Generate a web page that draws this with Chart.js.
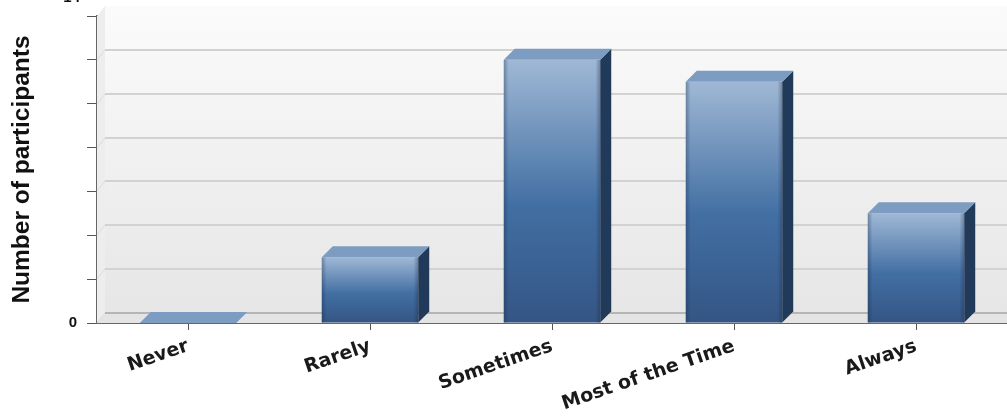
<!DOCTYPE html>
<html>
<head>
<meta charset="utf-8">
<script src="https://cdn.jsdelivr.net/npm/chart.js@4"></script>
<style>
  html, body { margin: 0; padding: 0; background: #fff; }
  #wrap { width: 1007px; height: 419px; }
</style>
</head>
<body>
<div id="wrap"><canvas id="freqChart" width="1007" height="419"></canvas></div>
<script>
// answers per frequency category
const categories = ["Never", "Rarely", "Sometimes", "Most of the Time", "Always"];
const participants = [0, 3, 12, 11, 5];
const yMax = 14;
const yStep = 2;

// depth of the fake 3d box (walls) and of the bars
const WALL_DX = 8, WALL_DY = 10;
const BAR_DX = 11, BAR_DY = 11;

function frontGradient(context) {
    const chart = context.chart;
    const y = chart.scales.y;
    if (!y || !chart.chartArea) return "#426fa3";
    const top = y.getPixelForValue(context.raw);
    const base = y.getPixelForValue(0);
    if (base - top < 1) return "#7f9fc4";
    const g = chart.ctx.createLinearGradient(0, top, 0, base);
    g.addColorStop(0, "#a0b8d5");
    g.addColorStop(0.55, "#426fa3");
    g.addColorStop(1, "#345584");
    return g;
}

// back wall, floor and grid lines drawn behind the bars
const box3d = {
    id: "box3d",
    beforeDatasetsDraw(chart) {
        const { ctx, chartArea: a } = chart;
        const y = chart.scales.y;
        ctx.save();
        // back wall
        const wg = ctx.createLinearGradient(0, a.top - WALL_DY, 0, a.bottom - WALL_DY);
        wg.addColorStop(0, "#fbfbfb");
        wg.addColorStop(1, "#e6e6e6");
        ctx.fillStyle = wg;
        ctx.fillRect(a.left + WALL_DX, a.top - WALL_DY, a.right - a.left - WALL_DX, a.bottom - a.top);
        // left side wall
        ctx.fillStyle = "#ededed";
        ctx.beginPath();
        ctx.moveTo(a.left, a.top);
        ctx.lineTo(a.left + WALL_DX, a.top - WALL_DY);
        ctx.lineTo(a.left + WALL_DX, a.bottom - WALL_DY);
        ctx.lineTo(a.left, a.bottom);
        ctx.closePath();
        ctx.fill();
        // floor
        ctx.fillStyle = "#e4e4e4";
        ctx.beginPath();
        ctx.moveTo(a.left, a.bottom);
        ctx.lineTo(a.left + WALL_DX, a.bottom - WALL_DY);
        ctx.lineTo(a.right, a.bottom - WALL_DY);
        ctx.lineTo(a.right, a.bottom);
        ctx.closePath();
        ctx.fill();
        // grid lines on the back wall plus the short diagonals on the side wall
        for (let v = 0; v < yMax; v += yStep) {
            const py = Math.round(y.getPixelForValue(v)) - WALL_DY;
            ctx.strokeStyle = v === 0 ? "#b5b5b5" : "#d2d2d2";
            ctx.lineWidth = 2;
            ctx.beginPath();
            ctx.moveTo(a.left + WALL_DX, py);
            ctx.lineTo(a.right, py);
            ctx.stroke();
            ctx.strokeStyle = "#dcdcdc";
            ctx.lineWidth = 1;
            ctx.beginPath();
            ctx.moveTo(a.left, py + WALL_DY);
            ctx.lineTo(a.left + WALL_DX, py);
            ctx.stroke();
        }
        ctx.restore();
    },
    afterDatasetsDraw(chart) {
        const { ctx } = chart;
        const meta = chart.getDatasetMeta(0);
        ctx.save();
        meta.data.forEach((bar) => {
            const { x, y, base, width } = bar.getProps(["x", "y", "base", "width"], true);
            const xl = x - width / 2, xr = x + width / 2;
            // soft shading along the front edges
            if (base - y > 1) {
                const eg = ctx.createLinearGradient(xl, 0, xr, 0);
                eg.addColorStop(0, "rgba(20,40,70,0.35)");
                eg.addColorStop(0.05, "rgba(20,40,70,0)");
                eg.addColorStop(0.95, "rgba(20,40,70,0)");
                eg.addColorStop(1, "rgba(20,40,70,0.35)");
                ctx.fillStyle = eg;
                ctx.fillRect(xl, y, width, base - y);
            }
            // right side
            ctx.fillStyle = "#223a59";
            ctx.beginPath();
            ctx.moveTo(xr, y);
            ctx.lineTo(xr + BAR_DX, y - BAR_DY);
            ctx.lineTo(xr + BAR_DX, base - BAR_DY);
            ctx.lineTo(xr, base);
            ctx.closePath();
            ctx.fill();
            // top
            ctx.fillStyle = "#7d9cc2";
            ctx.beginPath();
            ctx.moveTo(xl, y);
            ctx.lineTo(xr, y);
            ctx.lineTo(xr + BAR_DX, y - BAR_DY);
            ctx.lineTo(xl + BAR_DX, y - BAR_DY);
            ctx.closePath();
            ctx.fill();
        });
        // top value label sits above the canvas edge, only its foot shows
        const ys = chart.scales.y;
        ctx.fillStyle = "#111";
        ctx.font = "bold 15px 'Liberation Sans', Arial, sans-serif";
        ctx.textAlign = "right";
        ctx.textBaseline = "alphabetic";
        ctx.fillText(String(yMax), ys.right - 17, ys.getPixelForValue(yMax) - 14);
        ctx.restore();
    }
};

new Chart(document.getElementById("freqChart"), {
    type: "bar",
    data: {
        labels: categories,
        datasets: [{
            label: "Number of participants",
            data: participants,
            backgroundColor: frontGradient,
            borderWidth: 0,
            categoryPercentage: 1,
            barPercentage: 0.53
        }]
    },
    options: {
        responsive: false,
        animation: false,
        devicePixelRatio: 1,
        layout: { padding: { top: 16, right: 0, left: 0, bottom: 0 } },
        plugins: { legend: { display: false }, tooltip: { enabled: false } },
        scales: {
            x: {
                grid: { display: true, offset: false, drawOnChartArea: false, tickLength: 7, color: "#555", lineWidth: 1 },
                border: { color: "#666", width: 2 },
                ticks: {
                    minRotation: 19,
                    maxRotation: 19,
                    padding: 5,
                    color: "#1a1a1a",
                    font: { family: "'DejaVu Sans', sans-serif", weight: "bold", size: 19 }
                },
                afterFit(scale) { scale.height = 96; }
            },
            y: {
                min: 0,
                max: yMax,
                grid: { display: true, drawOnChartArea: false, tickLength: 10, color: "#555", lineWidth: 1 },
                border: { color: "#666", width: 2 },
                ticks: {
                    stepSize: yStep,
                    padding: 10,
                    color: "#111",
                    font: { family: "'Liberation Sans', Arial, sans-serif", weight: "bold", size: 15 },
                    callback: (v) => (v === 0 ? "0" : "")
                },
                title: {
                    display: true,
                    text: "Number of participants",
                    color: "#111",
                    padding: { top: 8, bottom: 0 },
                    font: { family: "'Liberation Sans', Arial, sans-serif", weight: "bold", size: 24.5 }
                },
                afterFit(scale) {
                    scale.width = 97;
                    // let the top of the value range sit right at the layout padding
                    scale.paddingTop = 0;
                    scale.paddingBottom = 0;
                }
            }
        }
    },
    plugins: [box3d]
});
</script>
</body>
</html>
